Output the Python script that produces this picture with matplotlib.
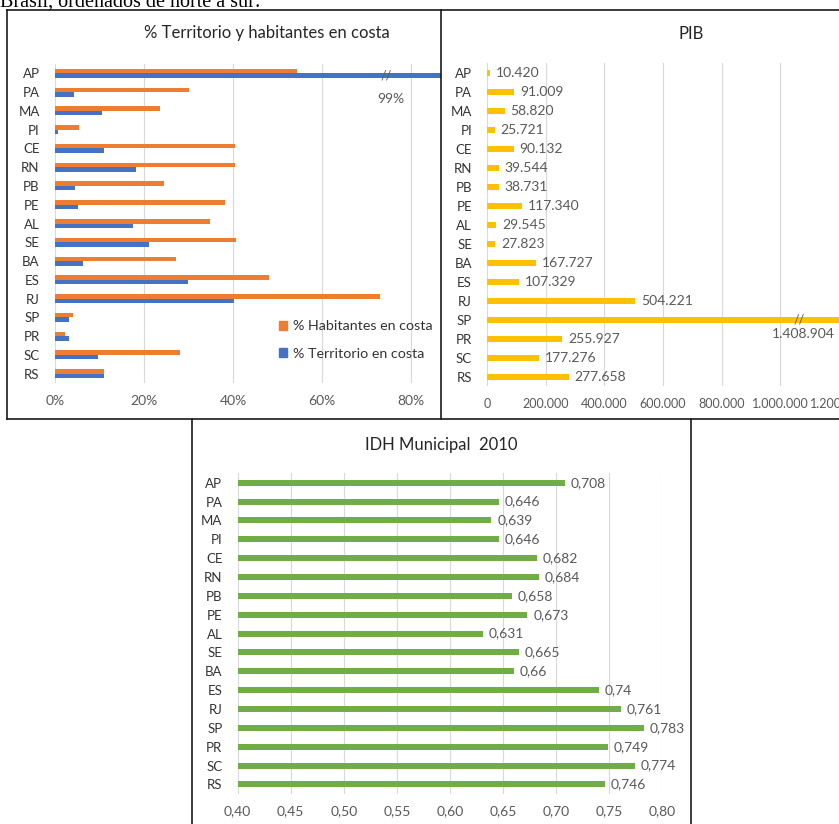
import matplotlib
matplotlib.use("Agg")
import matplotlib.pyplot as plt
from matplotlib.lines import Line2D
from matplotlib.patches import Patch
from matplotlib.ticker import FixedLocator, FuncFormatter

plt.rcParams["font.family"] = ["Lato", "DejaVu Sans"]

# Coastal states of Brazil, north to south
estados = ["AP", "PA", "MA", "PI", "CE", "RN", "PB", "PE", "AL", "SE",
           "BA", "ES", "RJ", "SP", "PR", "SC", "RS"]

# Share of population living on the coast (%)
habitantes_costa = [54.4, 30.1, 23.6, 5.4, 40.4, 40.4, 24.4, 38.1, 34.8, 40.7,
                    27.3, 48.2, 73.0, 4.0, 2.2, 28.0, 11.0]
# Share of territory on the coast (%)
territorio_costa = [99.0, 4.3, 10.5, 0.7, 11.1, 18.2, 4.6, 5.2, 17.6, 21.2,
                    6.4, 29.8, 40.2, 3.1, 3.1, 9.6, 10.9]

# Gross product per state
pib = [10420, 91009, 58820, 25721, 90132, 39544, 38731, 117340, 29545, 27823,
       167727, 107329, 504221, 1408904, 255927, 177276, 277658]

# Municipal HDI 2010
idh = [0.708, 0.646, 0.639, 0.646, 0.682, 0.684, 0.658, 0.673, 0.631, 0.665,
       0.66, 0.74, 0.761, 0.783, 0.749, 0.774, 0.746]

pct_ticks = [0, 20, 40, 60, 80]
pib_ticks = [0, 200000, 400000, 600000, 800000, 1000000, 1200000]
idh_ticks = [0.40, 0.45, 0.50, 0.55, 0.60, 0.65, 0.70, 0.75, 0.80]

C_ORANGE = "#ED7D31"
C_BLUE = "#4472C4"
C_GOLD = "#FFC000"
C_GREEN = "#70AD47"
C_GRID = "#D9D9D9"
C_LABEL = "#333333"
C_VALUE = "#595959"
C_TITLE = "#262626"

FS_CAT = 9.5
FS_VAL = 10
FS_TICK = 10
FS_TITLE = 12

W, H = 839, 824
fig = plt.figure(figsize=(W / 100, H / 100), dpi=100)


def px_axes(x0, y0, x1, y1):
    """Axes from pixel box (top-left origin)."""
    return fig.add_axes([x0 / W, 1 - y1 / H, (x1 - x0) / W, (y1 - y0) / H])


def miles(v):
    return f"{v:,.0f}".replace(",", ".")


def style(ax, ticks, tick_fs=FS_TICK):
    for s in ax.spines.values():
        s.set_visible(False)
    ax.xaxis.set_major_locator(FixedLocator(ticks))
    ax.grid(axis="x", color=C_GRID, linewidth=0.8)
    ax.set_axisbelow(True)
    ax.tick_params(axis="both", length=0)
    ax.tick_params(axis="y", pad=11, labelsize=FS_CAT, labelcolor=C_LABEL)
    ax.tick_params(axis="x", pad=8.5, labelsize=tick_fs, labelcolor=C_VALUE)
    ax.set_yticks(range(len(estados)))
    ax.set_yticklabels(estados)
    ax.set_ylim(len(estados) - 0.5, -0.5)


pos = list(range(len(estados)))

# ---- % territory and inhabitants on the coast ----
ax1 = px_axes(55, 64, 441, 383)
bh = 0.24
ax1.barh([p - bh / 2 for p in pos], habitantes_costa, height=bh, color=C_ORANGE,
         label="% Habitantes en costa")
ax1.barh([p + bh / 2 for p in pos], territorio_costa, height=bh, color=C_BLUE,
         label="% Territorio en costa")
ax1.set_xlim(0, 86.74)
style(ax1, pct_ticks)
ax1.xaxis.set_major_formatter(FuncFormatter(lambda v, _: f"{v:.0f}%"))
ax1.text(74.4, 0.1, "//", fontsize=9, color=C_VALUE, ha="center", va="center")
ax1.text(75.5, 1.35, f"{territorio_costa[0]:.0f}%", fontsize=FS_VAL, color=C_VALUE,
         ha="center", va="center")
ax1.legend(handles=[Patch(color=C_ORANGE, label="% Habitantes en costa"),
                    Patch(color=C_BLUE, label="% Territorio en costa")],
           loc="center left", bbox_to_anchor=(279 / W, 1 - 340 / H),
           bbox_transform=fig.transFigure, frameon=False, fontsize=10.3,
           labelcolor=C_LABEL, handlelength=0.55, handleheight=0.55,
           handletextpad=0.4, labelspacing=1.05, borderpad=0, borderaxespad=0)
fig.text(267 / W, 1 - 33 / H, "% Territorio y habitantes en costa",
         fontsize=FS_TITLE, color=C_TITLE, ha="center", va="center")

# ---- PIB ----
ax2 = px_axes(487.3, 63.2, 838.7, 386.2)
ax2.barh(pos, pib, height=0.32, color=C_GOLD)
ax2.set_xlim(0, 1200000)
style(ax2, pib_ticks, tick_fs=9)
ax2.xaxis.set_major_formatter(FuncFormatter(lambda v, _: miles(v)))
for p, v in zip(pos, pib):
    if v > 1200000:
        ax2.text(1064500, p, "//", fontsize=9, color=C_VALUE, ha="center", va="center")
        ax2.text(1188000, p + 0.75, miles(v), fontsize=FS_VAL, color=C_VALUE,
                 ha="right", va="center")
    else:
        ax2.text(v + 20000, p, miles(v), fontsize=FS_VAL, color=C_VALUE,
                 ha="left", va="center")
fig.text(691 / W, 1 - 34 / H, "PIB", fontsize=FS_TITLE, color=C_TITLE,
         ha="center", va="center")

# ---- IDH ----
ax3 = px_axes(237.7, 473.3, 662.3, 793.8)
ax3.barh(pos, idh, height=0.32, color=C_GREEN, left=0)
ax3.set_xlim(0.40, 0.80)
style(ax3, idh_ticks)
ax3.xaxis.set_major_formatter(FuncFormatter(lambda v, _: f"{v:.2f}".replace(".", ",")))
for p, v in zip(pos, idh):
    ax3.text(v + 0.0055, p, f"{v:g}".replace(".", ","), fontsize=FS_VAL, color=C_VALUE,
             ha="left", va="center")
fig.text(441 / W, 1 - 445 / H, "IDH Municipal  2010", fontsize=FS_TITLE, color=C_TITLE,
         ha="center", va="center")

# ---- panel frames ----
frame = dict(color="#1a1a1a", linewidth=1.2, transform=fig.transFigure)


def seg(x0, y0, x1, y1):
    fig.add_artist(Line2D([x0 / W, x1 / W], [1 - y0 / H, 1 - y1 / H], **frame))


seg(7, 10, W + 2, 10)
seg(7, 10, 7, 419)
seg(441, 10, 441, 419)
seg(7, 419, W + 2, 419)
seg(192, 419, 192, H + 2)
seg(691, 419, 691, H + 2)

# caption line above the panels
fig.text(0.5 / W, 1 - 7 / H, "Brasil, ordenados de norte a sur:",
         family=["Liberation Serif", "DejaVu Serif"], fontsize=14.5,
         color="black", ha="left", va="baseline")

fig.savefig("out.png", dpi=100)
